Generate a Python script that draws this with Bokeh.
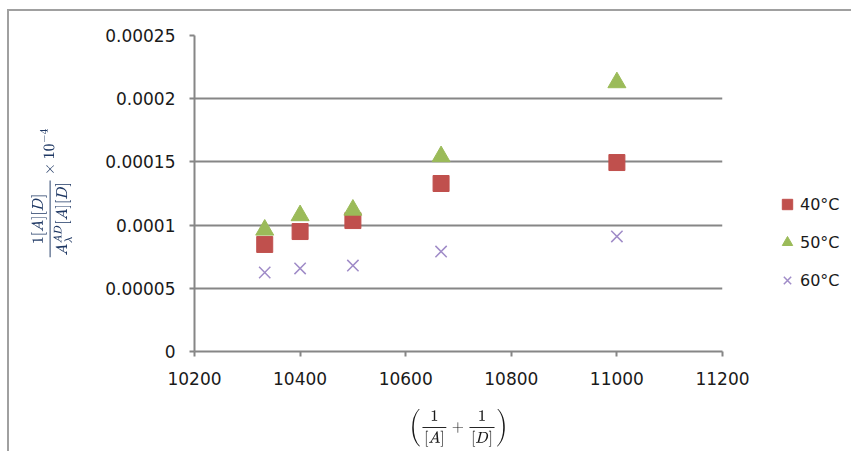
from bokeh.plotting import figure
from bokeh.models import FixedTicker, Legend, LegendItem
from bokeh.embed import file_html
from bokeh.resources import INLINE

x_vals = [10333, 10400, 10500, 10667, 11000]
t40 = [0.0000847, 0.0000949, 0.0001036, 0.0001329, 0.0001495]
t50 = [0.0000962, 0.0001076, 0.0001120, 0.0001543, 0.0002128]
t60 = [0.0000625, 0.0000657, 0.0000680, 0.0000791, 0.0000910]
y_ticks = [0, 0.00005, 0.0001, 0.00015, 0.0002, 0.00025]
y_tick_labels = ["0", "0.00005", "0.0001", "0.00015", "0.0002", "0.00025"]
x_ticks = [10200, 10400, 10600, 10800, 11000, 11200]

p = figure(frame_width=528, frame_height=316, output_backend="svg", toolbar_location=None,
           x_range=(10200, 11200), y_range=(0, 0.00025),
           min_border_left=185, min_border_right=0, min_border_top=24,
           min_border_bottom=100)
p.border_fill_color = "white"
p.outline_line_color = None
p.background_fill_color = "white"
p.styles = {"border-left": "2px solid #a0a0a0", "border-top": "2px solid #a0a0a0",
            "margin-top": "9px", "margin-left": "7px"}

font = "DejaVu Sans"
for ax in (p.xaxis, p.yaxis):
    ax.axis_line_color = "#868686"
    ax.axis_line_width = 2
    ax.major_tick_line_color = "#868686"
    ax.major_tick_line_width = 2
    ax.major_tick_out = 5
    ax.major_tick_in = 0
    ax.minor_tick_line_color = None
    ax.major_label_text_font = font
    ax.major_label_text_font_size = "17px"
    ax.major_label_text_color = "#1a1a1a"
    ax.axis_label_text_font_style = "normal"

p.yaxis.ticker = FixedTicker(ticks=y_ticks)
p.yaxis.major_label_overrides = {t: l for t, l in zip(y_ticks, y_tick_labels)}
p.yaxis.major_label_standoff = 14
p.xaxis.ticker = FixedTicker(ticks=x_ticks)
p.xaxis.major_label_standoff = 15

p.xgrid.grid_line_color = None
p.ygrid.ticker = FixedTicker(ticks=y_ticks)
p.ygrid.grid_line_color = "#868686"
p.ygrid.grid_line_width = 2

p.yaxis.axis_label = r"$$\frac{1[A][D]}{A_{\lambda}^{AD}[A][D]} \times 10^{-4}$$"
p.xaxis.axis_label = r"$$\left(\frac{1}{[A]}+\frac{1}{[D]}\right)$$"
p.yaxis.axis_label_text_color = "#1f3864"
p.xaxis.axis_label_text_color = "#1a1a1a"
p.yaxis.axis_label_standoff = 30
p.xaxis.axis_label_standoff = 21

r40 = p.scatter(x_vals, t40, marker="square", size=16, fill_color="#C0504D",
                line_color="#C0504D", line_width=1)
r50 = p.scatter(x_vals, t50, marker="triangle", size=18, fill_color="#9BBB59",
                line_color="#9BBB59", line_width=1)
r60 = p.scatter(x_vals, t60, marker="x", size=16, line_color="#A08CC8",
                line_width=1.5)

legend = Legend(items=[LegendItem(label="40°C", renderers=[r40]),
                       LegendItem(label="50°C", renderers=[r50]),
                       LegendItem(label="60°C", renderers=[r60])],
                location="bottom_left")
legend.border_line_color = None
legend.background_fill_alpha = 0
legend.label_text_font = font
legend.label_text_font_size = "16px"
legend.label_text_color = "#1a1a1a"
legend.spacing = 0
legend.glyph_width = 26
legend.glyph_height = 38
legend.label_standoff = 0
legend.padding = 2
legend.margin = 52
p.add_layout(legend, "right")

open("out.html", "w").write(file_html(p, INLINE))
